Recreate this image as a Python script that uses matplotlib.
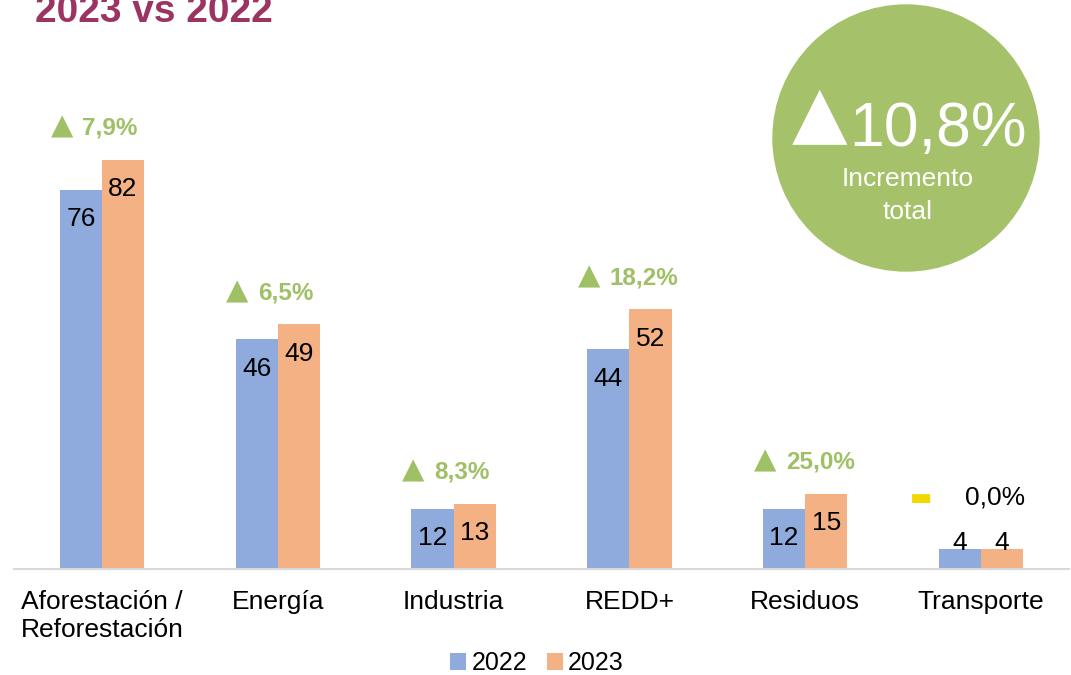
import matplotlib
matplotlib.use("Agg")
import matplotlib.pyplot as plt
from matplotlib.patches import Ellipse
import numpy as np

# ---- data ----
categories = ["Aforestación /\nReforestación", "Energía", "Industria", "REDD+", "Residuos", "Transporte"]
values_2022 = [76, 46, 12, 44, 12, 4]
values_2023 = [82, 49, 13, 52, 15, 4]
changes = ["7,9%", "6,5%", "8,3%", "18,2%", "25,0%", "0,0%"]
change_sign = [1, 1, 1, 1, 1, 0]
series_labels = ["2022", "2023"]
total_change = "10,8%"
title = "2023 vs 2022"

# ---- style ----
C22 = "#8FAADC"
C23 = "#F4B183"
GREEN = "#A0C066"
CIRCLE = "#A5C26A"
YELLOW = "#F2D800"
TITLE_C = "#9B3363"
FAM = ["Liberation Sans", "DejaVu Sans"]
plt.rcParams["font.family"] = FAM

W, H = 1071, 675
fig = plt.figure(figsize=(W / 100, H / 100), dpi=100)

# circle badge (behind axes)
fig.add_artist(Ellipse((906 / W, 1 - 138 / H), width=266 / W, height=266 / H,
                       transform=fig.transFigure, color=CIRCLE, zorder=-1))

ax = fig.add_axes([14 / W, (H - 569) / H, (1069 - 14) / W, (569 - 20) / H])
ax.patch.set_visible(False)

x = np.arange(len(categories))
bw = 0.24
b1 = ax.bar(x - bw / 2, values_2022, bw, color=C22, label=series_labels[0])
b2 = ax.bar(x + bw / 2, values_2023, bw, color=C23, label=series_labels[1])

ax.set_xlim(-0.5, len(categories) - 0.5)
ax.set_ylim(0, 110)
ax.set_yticks([])
for s in ["top", "right", "left"]:
    ax.spines[s].set_visible(False)
ax.spines["bottom"].set_color("#D9D9D9")
ax.spines["bottom"].set_linewidth(1.5)
ax.set_xticks(x)
ax.set_xticklabels(categories, fontsize=19, linespacing=1.2)
ax.tick_params(axis="x", length=0, pad=15)

# bar value labels
for bars, vals in [(b1, values_2022), (b2, values_2023)]:
    for rect, v in zip(bars, vals):
        cx = rect.get_x() + rect.get_width() / 2
        dy = -21 if v >= 8 else 4
        ax.annotate(str(v), (cx, v), xytext=(0, dy), textcoords="offset points",
                    ha="center", va="center", fontsize=19, color="black")

# change labels
for i, (c, sgn) in enumerate(zip(changes, change_sign)):
    top = max(values_2022[i], values_2023[i])
    if sgn > 0:
        ax.annotate("▲", (x[i], top), xytext=(-29, 24), textcoords="offset points",
                    ha="center", va="center", fontsize=21, color=GREEN,
                    family="DejaVu Sans")
        ax.annotate(c, (x[i], top), xytext=(-14, 23), textcoords="offset points",
                    ha="left", va="center", fontsize=17.5, fontweight="bold", color=GREEN)
    else:
        ax.annotate("▬", (x[i], top), xytext=(-43, 37), textcoords="offset points",
                    ha="center", va="center", fontsize=17, color=YELLOW, family="DejaVu Sans")
        ax.annotate(c, (x[i], top), xytext=(10, 37), textcoords="offset points",
                    ha="center", va="center", fontsize=19, color="black")

# title (partially cut off at top, as in the original)
fig.text(35 / W, 1 - 22 / H, title, fontsize=28, fontweight="bold", color=TITLE_C,
         ha="left", va="baseline")

# circle texts
fig.text(820 / W, 1 - 136 / H, "▲", fontsize=52, color="white",
         ha="center", va="baseline", family="DejaVu Sans")
fig.text(849 / W, 1 - 146 / H, total_change, fontsize=45, color="white",
         ha="left", va="baseline")
fig.text(908 / W, 1 - 186 / H, "Incremento", fontsize=19, color="white",
         ha="center", va="baseline")
fig.text(908 / W, 1 - 219 / H, "total", fontsize=19, color="white",
         ha="center", va="baseline")

# legend
fig.legend(handles=[b1, b2], labels=series_labels, loc="center",
           bbox_to_anchor=(537 / W, 1 - 663 / H), ncol=2, frameon=False,
           fontsize=18, handlelength=0.65, handleheight=0.65, handletextpad=0.2,
           columnspacing=0.8, borderpad=0)

fig.savefig("out.png", dpi=100)
